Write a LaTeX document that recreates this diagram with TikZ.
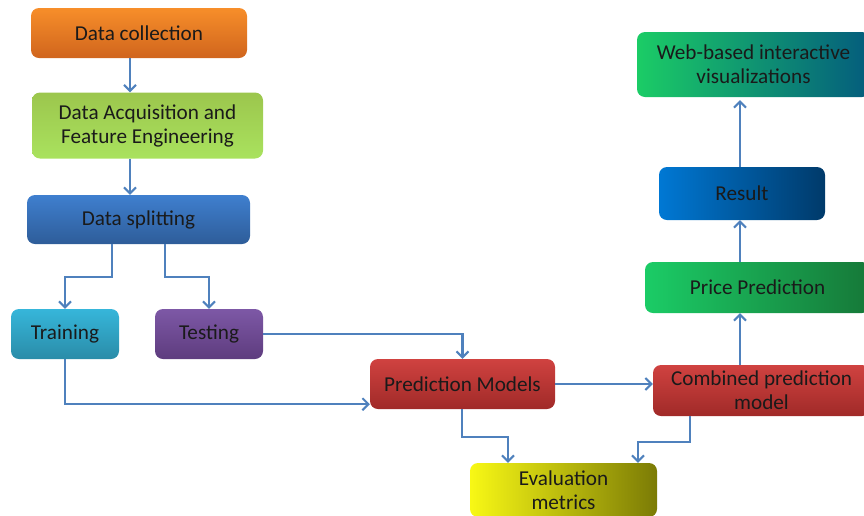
\documentclass[tikz,border=0pt]{standalone}
\usepackage{fontspec}
\setmainfont{Carlito}
\usetikzlibrary{arrows.meta}
\definecolor{arrowc}{HTML}{4F81BD}
\definecolor{txt}{HTML}{1A1A1A}
\begin{document}
\begin{tikzpicture}[x=1pt,y=-1pt,
  box/.style={rounded corners=8pt, inner sep=0pt, align=center, text=txt,
    font=\fontsize{21.2}{24}\selectfont},
  arr/.style={draw=arrowc, line width=2.4pt, -{Straight Barb[length=6pt,width=12pt,line width=2pt]}}]
\useasboundingbox (0,0) rectangle (864,515);
\node[box, minimum width=216pt, minimum height=50pt, top color={rgb,255:red,247;green,142;blue,42}, bottom color={rgb,255:red,208;green,101;blue,29}] (dc) at (139,33) {Data collection};
\node[box, minimum width=231pt, minimum height=66pt, top color={rgb,255:red,156;green,198;blue,77}, bottom color={rgb,255:red,169;green,226;blue,94}] (acq) at (147.5,125.5) {Data Acquisition and\\Feature Engineering};
\node[box, minimum width=223pt, minimum height=49pt, top color={rgb,255:red,63;green,127;blue,207}, bottom color={rgb,255:red,46;green,93;blue,153}] (split) at (138.5,219.5) {Data splitting};
\node[box, minimum width=108pt, minimum height=50pt, top color={rgb,255:red,54;green,182;blue,218}, bottom color={rgb,255:red,42;green,140;blue,168}] (train) at (65,334) {Training};
\node[box, minimum width=108pt, minimum height=50pt, top color={rgb,255:red,125;green,88;blue,166}, bottom color={rgb,255:red,94;green,60;blue,126}] (test) at (209,334) {Testing};
\node[box, minimum width=185pt, minimum height=50pt, top color={rgb,255:red,208;green,66;blue,64}, bottom color={rgb,255:red,160;green,42;blue,40}] (pred) at (462.5,384) {Prediction Models};
\node[box, minimum width=217pt, minimum height=51pt, top color={rgb,255:red,208;green,66;blue,64}, bottom color={rgb,255:red,160;green,42;blue,40}] (comb) at (761.5,390.5) {Combined prediction\\model};
\node[box, minimum width=187pt, minimum height=54pt, left color={rgb,255:red,248;green,248;blue,21}, right color={rgb,255:red,123;green,123;blue,5}] (eval) at (563.5,490) {Evaluation\\metrics};
\node[box, minimum width=225pt, minimum height=51pt, left color={rgb,255:red,27;green,204;blue,102}, right color={rgb,255:red,22;green,120;blue,56}] (price) at (757.5,287.5) {Price Prediction};
\node[box, minimum width=166pt, minimum height=53pt, left color={rgb,255:red,0;green,120;blue,212}, right color={rgb,255:red,0;green,58;blue,106}] (res) at (742,193.5) {Result};
\node[box, minimum width=233pt, minimum height=65pt, left color={rgb,255:red,27;green,204;blue,102}, right color={rgb,255:red,4;green,92;blue,125}] (web) at (753.5,64.5) {Web-based interactive\\visualizations};
% helper coordinates
\coordinate (c1) at (130,0);
\coordinate (c2) at (112,277);
\coordinate (c3) at (165,277);
\coordinate (c4) at (462,437);
\coordinate (c5) at (508,0);
\coordinate (c6) at (690,442);
\coordinate (c7) at (638,0);
\coordinate (c8) at (740,0);
% connectors
\draw[arr] (dc.south -| c1) -- (acq.north -| c1);
\draw[arr] (acq.south -| c1) -- (split.north -| c1);
\draw[arr] (split.south -| c2) -- (c2) -| (train.north);
\draw[arr] (split.south -| c3) -- (c3) -| (test.north);
\draw[arr] (test.east) -| (pred.north);
\draw[arr] (train.south) |- ([yshift=5pt]pred.south west);
\draw[arr] (pred.east) -- (pred.east -| comb.west);
\draw[arr] (pred.south -| c4) -- (c4) -| (eval.north -| c5);
\draw[arr] (comb.south -| c6) -- (c6) -| (eval.north -| c7);
\draw[arr] (comb.north -| c8) -- (price.south -| c8);
\draw[arr] (price.north -| c8) -- (res.south -| c8);
\draw[arr] (res.north -| c8) -- ([yshift=-3pt]web.south -| c8);
\end{tikzpicture}
\end{document}
